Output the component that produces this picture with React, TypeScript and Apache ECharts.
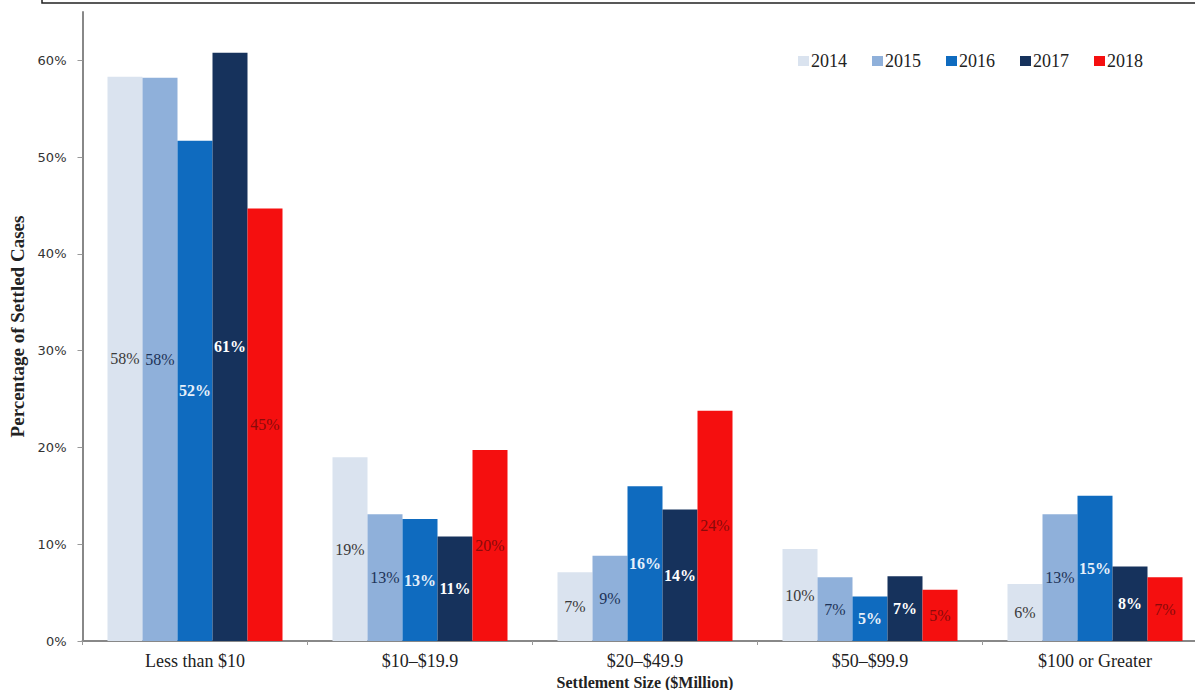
import React, { useEffect, useRef } from "react";
import * as echarts from "echarts";

const categories = ["Less than $10", "$10–$19.9", "$20–$49.9", "$50–$99.9", "$100 or Greater"];
const years = ["2014", "2015", "2016", "2017", "2018"];
const v2014 = [58.3, 19.0, 7.1, 9.5, 5.9];
const v2015 = [58.2, 13.1, 8.8, 6.6, 13.1];
const v2016 = [51.7, 12.6, 16.0, 4.6, 15.0];
const v2017 = [60.8, 10.8, 13.6, 6.7, 7.7];
const v2018 = [44.7, 19.75, 23.8, 5.3, 6.6];
const yTicks = [0, 10, 20, 30, 40, 50, 60];

const seriesValues = [v2014, v2015, v2016, v2017, v2018];
const barColors = ["#dae3ef", "#8fb0da", "#0f6bbf", "#16325c", "#f50f0f"];
const labelColors = ["#3a3a3a", "#1d3358", "#e6f0fa", "#ffffff", "#8a0a0a"];
const labelBold = [false, false, true, true, false];

export default function App() {
  const ref = useRef<HTMLDivElement>(null);
  useEffect(() => {
    if (!ref.current) return;
    const chart = echarts.init(ref.current, null, { renderer: "svg" });
    const font = "'Liberation Serif', 'Times New Roman', serif";
    chart.setOption({
      animation: false,
      textStyle: { fontFamily: font },
      graphic: [
        {
          type: "rect",
          shape: { x: 42, y: -6, width: 1170, height: 9 },
          style: { fill: "none", stroke: "#222", lineWidth: 1.5 },
        },
      ],
      legend: {
        data: years,
        right: 47,
        top: 47,
        icon: "rect",
        itemWidth: 11,
        itemHeight: 10,
        itemGap: 25,
        textStyle: { fontFamily: font, fontSize: 18, color: "#222", padding: [0, 0, 0, -3] },
      },
      grid: { left: 82.5, right: -12.5, top: 12, bottom: 49, containLabel: false, outerBoundsMode: "none" },
      xAxis: {
        type: "category",
        data: categories,
        name: "Settlement Size ($Million)",
        nameLocation: "middle",
        nameGap: 30,
        nameTextStyle: { fontFamily: font, fontSize: 16, lineHeight: 16, fontWeight: "bold", color: "#222" },
        axisLine: { lineStyle: { color: "#888", width: 2 } },
        axisTick: { show: true, length: 4, lineStyle: { color: "#999" } },
        axisLabel: { fontFamily: font, fontSize: 18, color: "#222", margin: 11 },
      },
      yAxis: {
        type: "value",
        min: 0,
        max: 65,
        interval: 10,
        name: "Percentage of Settled Cases",
        nameLocation: "middle",
        nameGap: 55,
        nameRotate: 90,
        nameTextStyle: { fontFamily: font, fontSize: 19, fontWeight: "bold", color: "#222" },
        splitLine: { show: false },
        axisLine: { show: true, lineStyle: { color: "#888", width: 2 } },
        axisTick: { show: true, length: 5, lineStyle: { color: "#999" }, customValues: yTicks },
        axisLabel: {
          fontFamily: "'DejaVu Sans', Verdana, sans-serif",
          fontSize: 13,
          color: "#333",
          margin: 16,
          customValues: yTicks,
          formatter: (v: number) => `${v}%`,
        },
      },
      series: years.map((y, i) => ({
        name: y,
        type: "bar",
        data: seriesValues[i],
        barWidth: 35,
        barGap: "0%",
        itemStyle: { color: barColors[i] },
        label: {
          show: true,
          position: "inside",
          formatter: (p: any) => `${Math.round(p.value)}%`,
          fontFamily: font,
          fontSize: 16,
          fontWeight: labelBold[i] ? "bold" : "normal",
          color: labelColors[i],
        },
      })),
    });
    return () => chart.dispose();
  }, []);
  return (
    <div
      ref={ref}
      style={{ position: "fixed", left: 0, top: 0, width: 1195, height: 690, background: "#fff" }}
    />
  );
}
